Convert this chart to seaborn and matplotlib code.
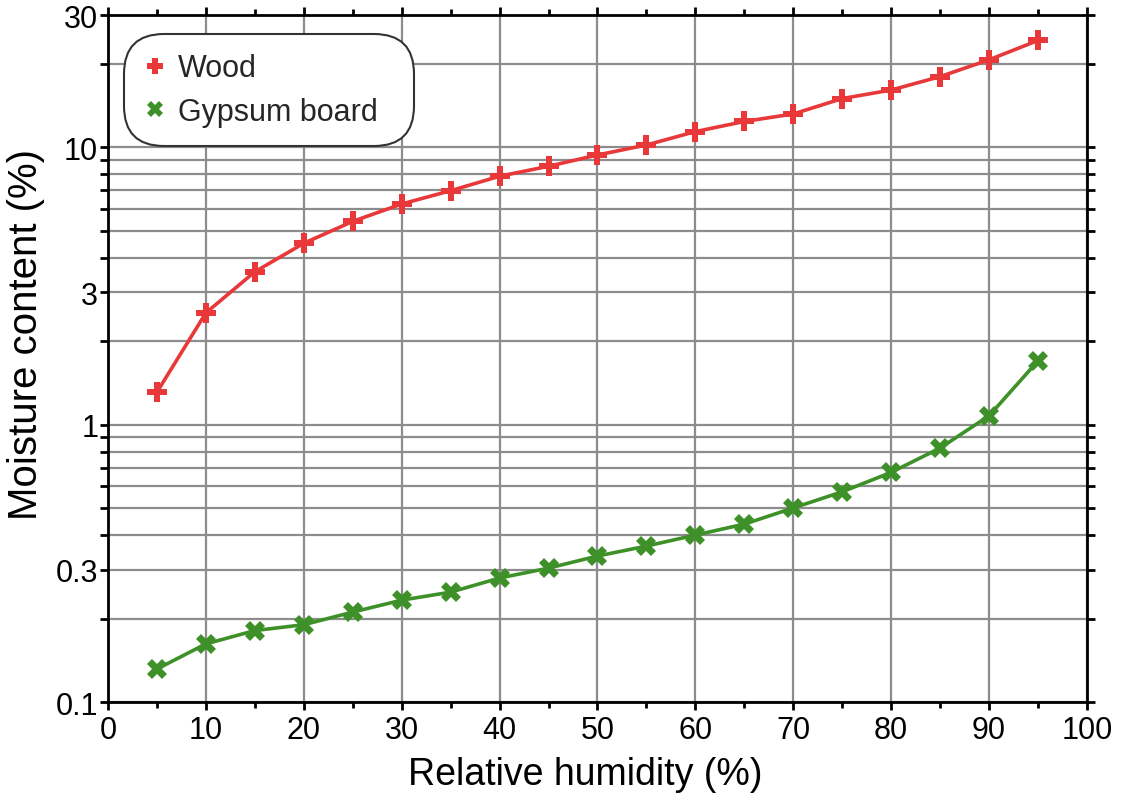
import numpy as np
import pandas as pd
import matplotlib
matplotlib.use("Agg")
import matplotlib.pyplot as plt
import seaborn as sns
from matplotlib.lines import Line2D

# data
humidity = [5, 10, 15, 20, 25, 30, 35, 40, 45, 50, 55, 60, 65, 70, 75, 80, 85, 90, 95]
wood = [1.31, 2.53, 3.56, 4.51, 5.41, 6.25, 6.98, 7.87, 8.55, 9.39, 10.2, 11.4,
        12.4, 13.2, 15.0, 16.1, 18.0, 20.7, 24.3]
gypsum = [0.1315, 0.162, 0.181, 0.190, 0.211, 0.233, 0.249, 0.280, 0.304, 0.336,
          0.365, 0.400, 0.438, 0.501, 0.573, 0.673, 0.824, 1.077, 1.70]
ytick_labels = {0.1: "0.1", 0.3: "0.3", 1: "1", 3: "3", 10: "10", 30: "30"}

red = "#e8383a"
green = "#3e9128"

sns.set_theme(style="white")
plt.rcParams['font.family'] = ['Liberation Sans', 'DejaVu Sans']

df = pd.DataFrame({"rh": humidity, "Wood": wood, "Gypsum board": gypsum})

fig = plt.figure(figsize=(11.27, 8.04), dpi=100)
ax = fig.add_axes([0.0958, 0.1256, 0.8687, 0.8544])

sns.lineplot(data=df, x="rh", y="Wood", ax=ax, color=red, lw=2.6,
             marker="P", markersize=15, markeredgewidth=0, zorder=4)
sns.lineplot(data=df, x="rh", y="Gypsum board", ax=ax, color=green, lw=2.6,
             marker="X", markersize=15, markeredgewidth=0, zorder=4)

ax.set_yscale("log")
ax.set_xlim(0, 100)
ax.set_ylim(0.1, 30)

# horizontal grid on every log step
yt = []
for dec in [0.1, 1, 10]:
    for m in range(1, 10):
        v = round(dec * m, 3)
        if v <= 30:
            yt.append(v)
ax.yaxis.set_major_locator(matplotlib.ticker.FixedLocator(yt))
ax.yaxis.set_minor_locator(matplotlib.ticker.NullLocator())
ax.set_yticklabels([ytick_labels.get(v, "") for v in yt])
ax.set_xticks(range(0, 101, 10))
ax.set_xticks(range(5, 100, 10), minor=True)

ax.grid(True, which="major", color="#8c8c8c", lw=1.6)
ax.set_axisbelow(True)

ax.tick_params(which="major", direction="out", length=6, width=2, color="black",
               labelsize=22, top=True, right=True, left=True, bottom=True,
               labelcolor="black", pad=3)
ax.tick_params(axis="y", pad=1)
ax.tick_params(which="minor", direction="out", length=4, width=2, color="black",
               top=True, bottom=True)
for s in ax.spines.values():
    s.set_color("black")
    s.set_linewidth(2)

ax.set_xlabel("Relative humidity (%)", fontsize=27, color="black", labelpad=8)
ax.set_ylabel("Moisture content (%)", fontsize=29, color="black", labelpad=8)
ax.xaxis.label.set_x(0.488)
ax.yaxis.label.set_y(0.537)

handles = [Line2D([], [], color=red, marker="P", ls="none", markersize=12, markeredgewidth=0),
           Line2D([], [], color=green, marker="X", ls="none", markersize=12, markeredgewidth=0)]
leg = ax.legend(handles, ["Wood", "Gypsum board  "], loc="upper left",
                bbox_to_anchor=(0.017, 0.971), borderaxespad=0, fontsize=22,
                frameon=True, fancybox=True, framealpha=1, handletextpad=0.35,
                handlelength=0.8, labelspacing=0.45, borderpad=0.6)
fr = leg.get_frame()
fr.set_edgecolor("#333333")
fr.set_linewidth(1.5)
fr.set_boxstyle("round", pad=0.02, rounding_size=1.3)

fig.savefig("out.png", dpi=100)
